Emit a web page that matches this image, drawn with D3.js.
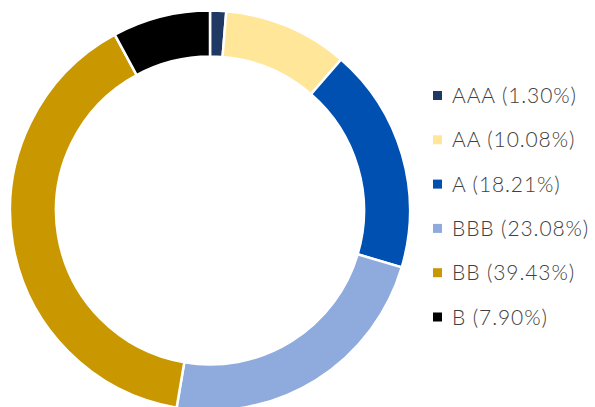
<!DOCTYPE html>
<html><head><meta charset="utf-8">
<script src="https://cdn.jsdelivr.net/npm/d3@7"></script>
<style>html,body{margin:0;padding:0;background:#fff;}</style>
</head><body>
<svg id="chart" width="595" height="407"></svg>
<script>
const categories = ["AAA", "AA", "A", "BBB", "BB", "B"];
const values = [1.30, 10.08, 18.21, 23.08, 39.43, 7.90];
const labels = ["AAA (1.30%)", "AA (10.08%)", "A (18.21%)", "BBB (23.08%)", "BB (39.43%)", "B (7.90%)"];
const colors = ["#1F3864", "#FFE699", "#0050B2", "#8FAADC", "#C99700", "#000000"];

const svg = d3.select("#chart");
const cx = 210, cy = 210.5, rOuter = 200, rInner = 154;
const pie = d3.pie().sort(null).value(d => d.v);
const data = categories.map((c, i) => ({c, v: values[i], color: colors[i], label: labels[i]}));
const arc = d3.arc().innerRadius(rInner).outerRadius(rOuter);

svg.append("g").attr("transform", `translate(${cx},${cy})`)
  .selectAll("path").data(pie(data)).join("path")
  .attr("d", arc).attr("fill", d => d.data.color)
  .attr("stroke", "#fff").attr("stroke-width", 2.5).attr("stroke-linejoin", "miter");

const ly = d3.scalePoint().domain(categories).range([95.5, 317]);
const lg = svg.append("g");
const items = lg.selectAll("g").data(data).join("g")
  .attr("transform", d => `translate(433,${ly(d.c)})`);
items.append("rect").attr("x", 0).attr("y", -4.5).attr("width", 9).attr("height", 9)
  .attr("fill", d => d.color);
items.append("text").attr("x", 19).attr("y", 0).attr("dy", "0.36em")
  .attr("font-family", "Lato, 'Open Sans', sans-serif").attr("font-size", 21)
  .attr("font-weight", 300).attr("letter-spacing", 0.9)
  .attr("fill", "#404040").text(d => d.label);
</script>
</body></html>
